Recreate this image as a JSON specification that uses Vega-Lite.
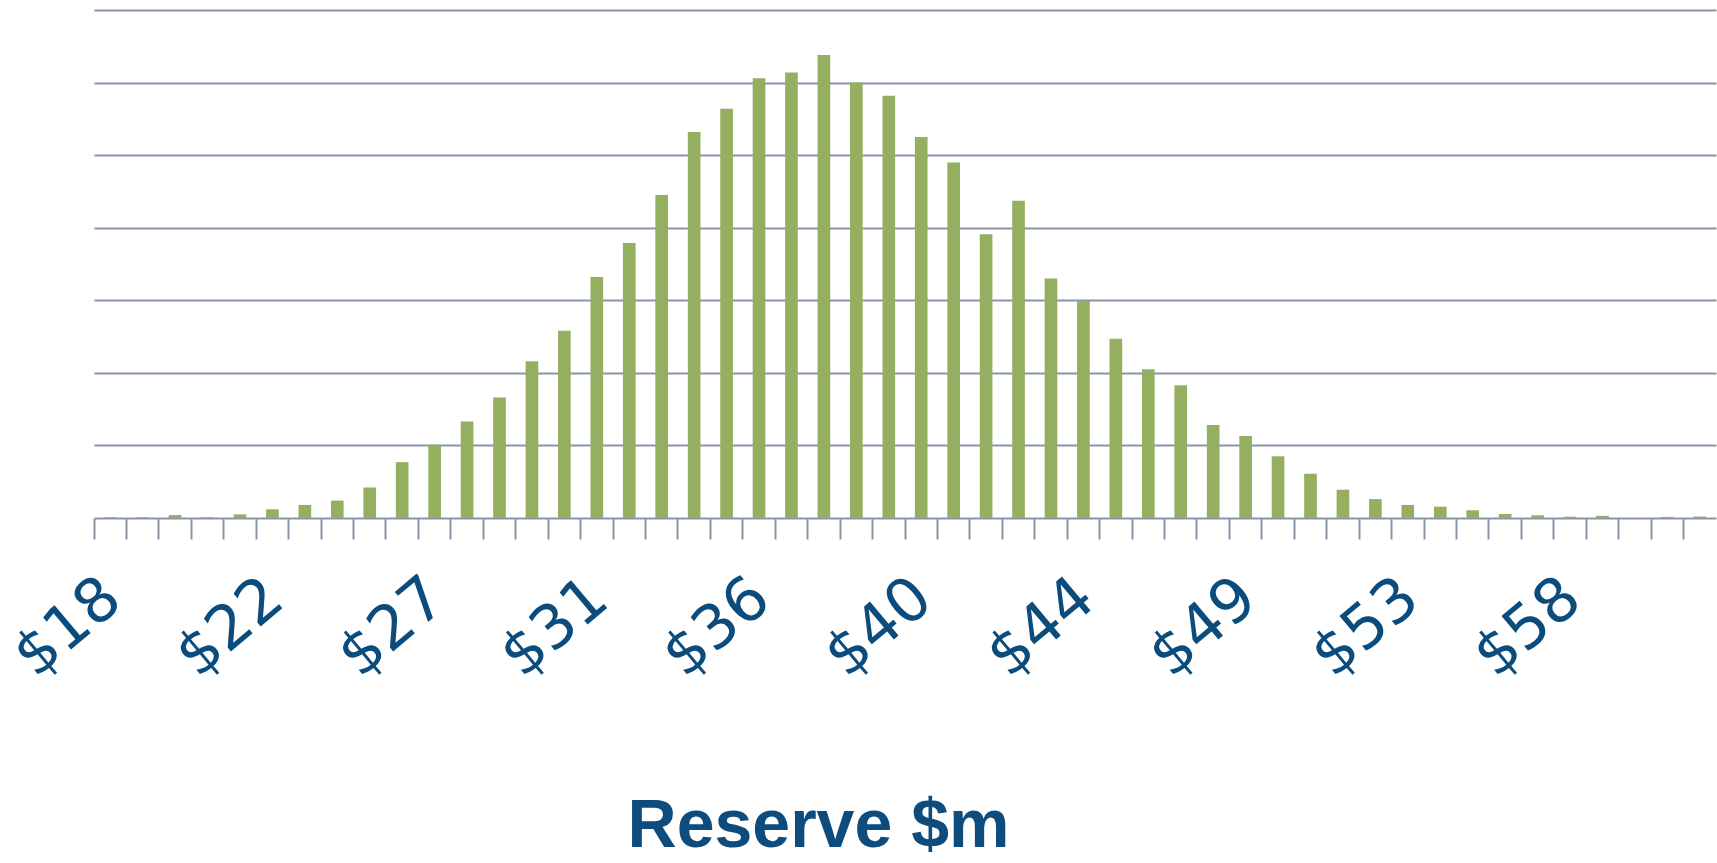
{
  "$schema": "https://vega.github.io/schema/vega-lite/v6.json",
  "width": 1622,
  "height": 508,
  "autosize": {"type": "none"},
  "padding": {"left": 94, "top": 10, "right": 1, "bottom": 345},
  "background": "#FFFFFF",
  "config": {"view": {"stroke": null}},
  "data": {
    "values": [
      {"reserve": 17.90, "freq": 0.01},
      {"reserve": 18.79, "freq": 0.01},
      {"reserve": 19.67, "freq": 0.04},
      {"reserve": 20.56, "freq": 0.01},
      {"reserve": 21.44, "freq": 0.05},
      {"reserve": 22.33, "freq": 0.12},
      {"reserve": 23.21, "freq": 0.18},
      {"reserve": 24.10, "freq": 0.24},
      {"reserve": 24.98, "freq": 0.42},
      {"reserve": 25.87, "freq": 0.77},
      {"reserve": 26.75, "freq": 1.01},
      {"reserve": 27.64, "freq": 1.33},
      {"reserve": 28.52, "freq": 1.66},
      {"reserve": 29.41, "freq": 2.16},
      {"reserve": 30.29, "freq": 2.58},
      {"reserve": 31.18, "freq": 3.32},
      {"reserve": 32.06, "freq": 3.79},
      {"reserve": 32.95, "freq": 4.45},
      {"reserve": 33.83, "freq": 5.32},
      {"reserve": 34.72, "freq": 5.64},
      {"reserve": 35.60, "freq": 6.06},
      {"reserve": 36.49, "freq": 6.14},
      {"reserve": 37.37, "freq": 6.38},
      {"reserve": 38.26, "freq": 6.00},
      {"reserve": 39.14, "freq": 5.82},
      {"reserve": 40.03, "freq": 5.25},
      {"reserve": 40.91, "freq": 4.90},
      {"reserve": 41.80, "freq": 3.91},
      {"reserve": 42.68, "freq": 4.37},
      {"reserve": 43.57, "freq": 3.30},
      {"reserve": 44.45, "freq": 2.99},
      {"reserve": 45.34, "freq": 2.47},
      {"reserve": 46.22, "freq": 2.05},
      {"reserve": 47.11, "freq": 1.83},
      {"reserve": 47.99, "freq": 1.28},
      {"reserve": 48.88, "freq": 1.13},
      {"reserve": 49.76, "freq": 0.85},
      {"reserve": 50.65, "freq": 0.61},
      {"reserve": 51.53, "freq": 0.39},
      {"reserve": 52.42, "freq": 0.26},
      {"reserve": 53.30, "freq": 0.18},
      {"reserve": 54.19, "freq": 0.156},
      {"reserve": 55.07, "freq": 0.106},
      {"reserve": 55.96, "freq": 0.055},
      {"reserve": 56.84, "freq": 0.037},
      {"reserve": 57.73, "freq": 0.018},
      {"reserve": 58.61, "freq": 0.03},
      {"reserve": 59.50, "freq": 0},
      {"reserve": 60.38, "freq": 0.015},
      {"reserve": 61.27, "freq": 0.02}
    ]
  },
  "mark": {"type": "bar", "color": "#93AF5F", "width": {"band": 0.39}},
  "encoding": {
    "x": {
      "field": "reserve",
      "type": "ordinal",
      "scale": {"paddingInner": 0, "paddingOuter": 0},
      "axis": {
        "bandPosition": 0,
        "labelOffset": 3,
        "labelExpr": "indexof([17.9,22.33,26.75,31.18,35.6,40.03,44.45,48.88,53.3,57.73], datum.value) >= 0 ? '$' + format(datum.value, '.0f') : ''",
        "labelAngle": -40,
        "labelAlign": "right",
        "labelBaseline": "middle",
        "labelFont": "DejaVu Sans",
        "labelFontSize": 61,
        "labelColor": "#0B4C7D",
        "labelPadding": 51,
        "labelOverlap": false,
        "tickColor": "#8A95A9",
        "tickWidth": 2,
        "tickSize": 21,
        "domainColor": "#8A95A9",
        "domainWidth": 2,
        "grid": false,
        "title": "Reserve $m",
        "titleFont": "Liberation Sans",
        "titleFontSize": 68,
        "titleFontWeight": "bold",
        "titleColor": "#0E4C7E",
        "titleX": 724,
        "titleY": 328,
        "titleAlign": "center",
        "titleBaseline": "alphabetic"
      }
    },
    "y": {
      "field": "freq",
      "type": "quantitative",
      "scale": {"domain": [0, 7], "nice": false},
      "axis": {
        "values": [1, 2, 3, 4, 5, 6, 7],
        "grid": true,
        "gridColor": "#8A95A9",
        "gridWidth": 2,
        "labels": false,
        "ticks": false,
        "domain": false,
        "title": null
      }
    }
  }
}
